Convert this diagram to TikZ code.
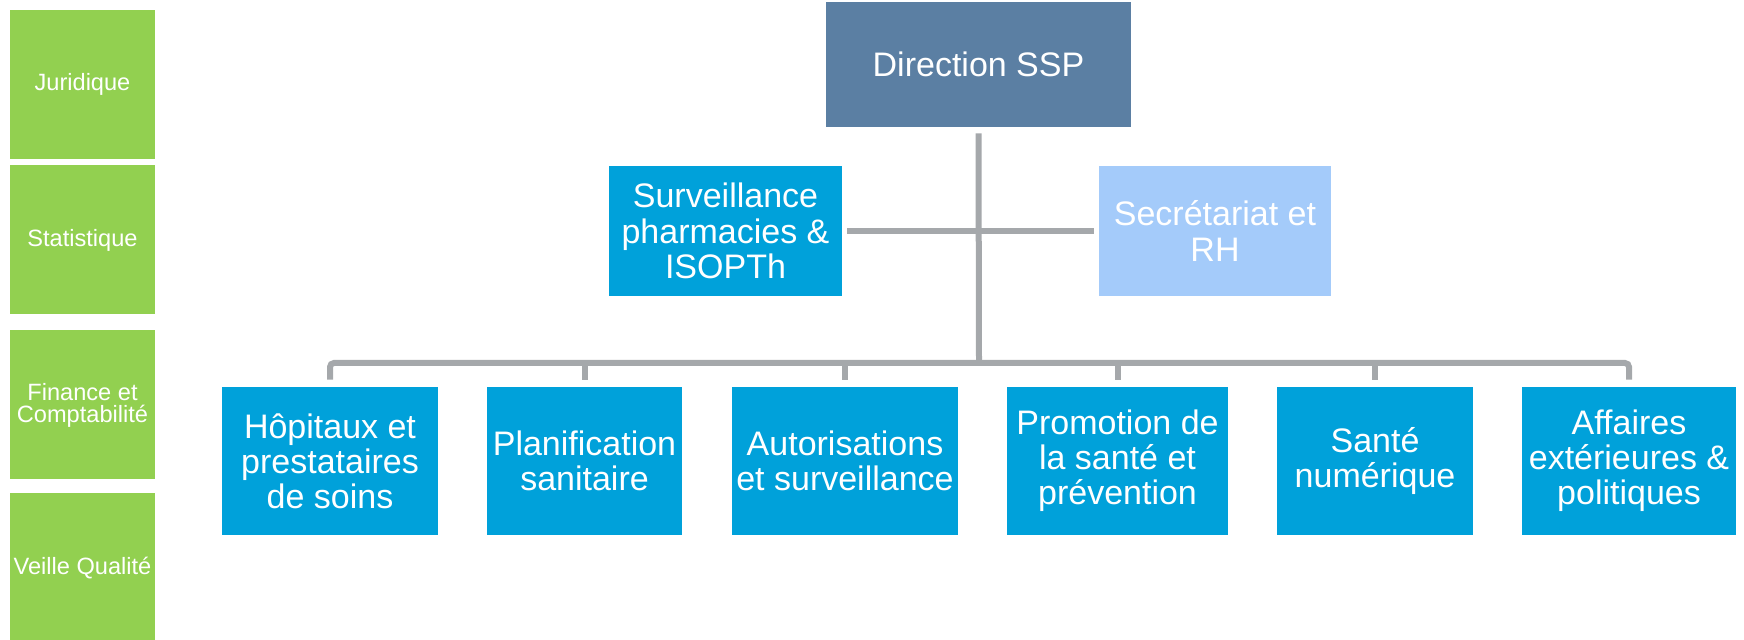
\documentclass[tikz,border=0pt]{standalone}
\usepackage{fontspec}
\setmainfont{Liberation Sans}
\definecolor{vert}{HTML}{92D050}
\definecolor{ardoise}{HTML}{5B7FA3}
\definecolor{bleu}{HTML}{00A1DA}
\definecolor{bleuclair}{HTML}{A4CBFA}
\definecolor{trait}{HTML}{A5A8AB}
\tikzset{
	boite/.style={fill=bleu, text=white, align=center, inner sep=0pt, minimum height=74pt, font=\fontsize{17}{17.6}\selectfont},
	support/.style={fill=vert, text=white, align=center, inner sep=0pt, minimum width=72.5pt, minimum height=74.5pt, font=\fontsize{11.8}{11}\selectfont},
	lien/.style={draw=trait, line width=3pt}
}
\begin{document}
\begin{tikzpicture}[x=0.5pt, y=-0.5pt]
		\useasboundingbox (0,0) rectangle (1744,640);

				% Supports
				\node[support] at (82.5,84.5) (jur) {Juridique};
				\node[support] at (82.5,240) (stat) {Statistique};
				\node[support] at (82.5,405) (fin) {Finance et\\Comptabilité};
				\node[support] at (82.5,568) (veil) {Veille Qualité};

				% Direction et état-major
				\node[boite, fill=ardoise, minimum width=152.5pt, minimum height=62.5pt] at (978.5,64.5) (dir) {Direction SSP};
				\node[boite, minimum width=116.5pt, minimum height=65pt] at (725.5,231) (surv) {Surveillance\\pharmacies \&\\ISOPTh};
				\node[boite, fill=bleuclair, minimum width=116pt, minimum height=65pt] at (1215,231) (secr) {Secrétariat et\\RH};

				% Divisions
				\node[boite, minimum width=108pt] at (330,461) (hop) {Hôpitaux et\\prestataires\\de soins};
				\node[boite, minimum width=97.5pt] at (584.5,461) (plan) {Planification\\sanitaire};
				\node[boite, minimum width=113pt] at (845,461) (auto) {Autorisations\\et surveillance};
				\node[boite, minimum width=110.5pt] at (1117.5,461) (prom) {Promotion de\\la santé et\\prévention};
				\node[boite, minimum width=98pt] at (1375,461) (num) {Santé\\numérique};
				\node[boite, minimum width=107pt] at (1629,461) (aff) {Affaires\\extérieures \&\\politiques};

				% Liens
				\coordinate (bus) at (979,363);
				\draw[lien] ([yshift=-3pt]dir.south) -- (bus);
				\draw[lien] ([xshift=2.5pt]surv.east) -- ([xshift=-2.5pt]secr.west);
				\draw[lien, rounded corners=2pt] ([yshift=3.5pt]hop.north) -- (hop.north |- bus) -- (aff.north |- bus) -- ([yshift=3.5pt]aff.north);
				\foreach \n in {plan,auto,prom,num}
					\draw[lien] (\n.north |- bus) -- ([yshift=3.5pt]\n.north);

\end{tikzpicture}
\end{document}
